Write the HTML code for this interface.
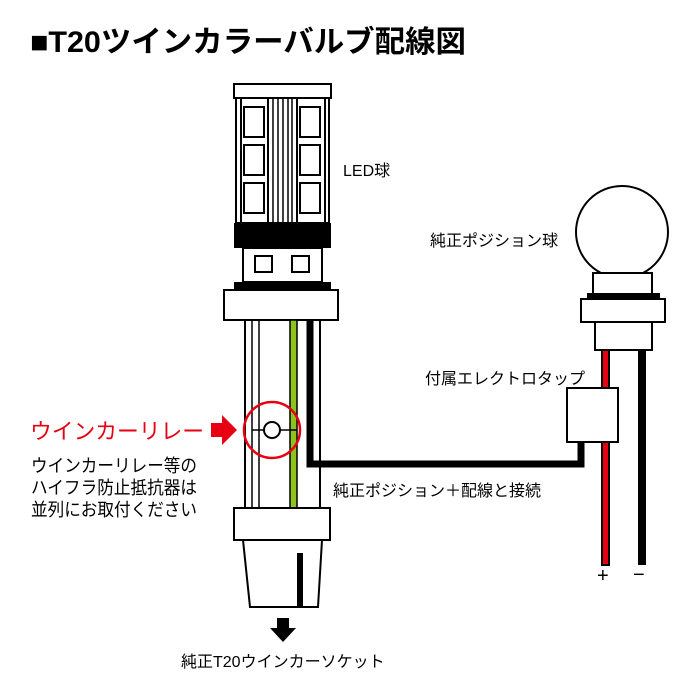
<!DOCTYPE html>
<html><head><meta charset="utf-8"><style>
html,body{margin:0;padding:0;background:#fff;}
svg{display:block;}
text{font-family:"Liberation Sans","Noto Sans CJK JP",sans-serif;}
</style></head><body>
<svg width="700" height="700" viewBox="0 0 700 700" xmlns="http://www.w3.org/2000/svg">
<rect width="700" height="700" fill="#fff"/>
<text x="30" y="52" font-size="30" font-weight="bold" textLength="436" lengthAdjust="spacingAndGlyphs">■T20ツインカラーバルブ配線図</text>

<!-- LED bulb -->
<g stroke="#000" stroke-width="2" fill="#fff">
<rect x="234" y="84" width="97" height="14"/>
<rect x="236" y="98" width="93" height="125"/>
<line x1="241" y1="98" x2="241" y2="223"/>
<line x1="325" y1="98" x2="325" y2="223"/>
<line x1="268" y1="98" x2="268" y2="223"/>
<line x1="297" y1="98" x2="297" y2="223"/>
<g stroke-width="1.5">
<line x1="273" y1="98" x2="273" y2="223"/><line x1="278" y1="98" x2="278" y2="223"/>
<line x1="283" y1="98" x2="283" y2="223"/><line x1="288" y1="98" x2="288" y2="223"/>
<line x1="292" y1="98" x2="292" y2="223"/>
</g>
<rect x="244" y="107" width="20" height="30"/><rect x="244" y="145" width="20" height="30"/><rect x="244" y="183" width="20" height="30"/>
<rect x="300" y="107" width="20" height="30"/><rect x="300" y="145" width="20" height="30"/><rect x="300" y="183" width="20" height="30"/>
</g>
<rect x="234" y="223" width="97" height="25" fill="#000"/>
<g stroke="#000" stroke-width="2" fill="#fff">
<rect x="243" y="248" width="79" height="34"/>
<rect x="255" y="256" width="17" height="16"/>
<rect x="292" y="256" width="17" height="16"/>
</g>
<rect x="234" y="282" width="97" height="8" fill="#000"/>
<rect x="224" y="290" width="114" height="30" fill="#fff" stroke="#000" stroke-width="2"/>
<line x1="245" y1="320" x2="245" y2="508" stroke="#000" stroke-width="2"/>
<line x1="320" y1="320" x2="320" y2="508" stroke="#000" stroke-width="2"/>
<line x1="252" y1="320" x2="252" y2="508" stroke="#000" stroke-width="1.5"/>
<line x1="259" y1="320" x2="259" y2="508" stroke="#000" stroke-width="1.5"/>
<rect x="290" y="320" width="7" height="188" fill="#8dc21f" stroke="#000" stroke-width="1.5"/>
<path d="M310 320 V464 H581 V442" fill="none" stroke="#000" stroke-width="7"/>
<line x1="252" y1="430" x2="297" y2="430" stroke="#000" stroke-width="1.5"/>
<circle cx="272" cy="430" r="8" fill="#fff" stroke="#000" stroke-width="2"/>
<circle cx="272" cy="430" r="28" fill="none" stroke="#e60012" stroke-width="2.5"/>
<rect x="234" y="508" width="96" height="32" fill="#fff" stroke="#000" stroke-width="2"/>
<path d="M243 540 L322 540 L318 607 L250 607 Z" fill="#fff" stroke="#000" stroke-width="2"/>
<rect x="297" y="553" width="6" height="54" fill="#000"/>
<path d="M277 618 h12 v10 h7 l-13 14 l-13 -14 h7 z" fill="#000"/>

<circle cx="622" cy="232" r="46" fill="#fff" stroke="#000" stroke-width="2"/>
<rect x="593" y="273" width="59" height="22" fill="#fff" stroke="#000" stroke-width="2"/>
<rect x="587" y="293" width="73" height="6" fill="#000"/>
<rect x="581" y="299" width="84" height="23" fill="#fff" stroke="#000" stroke-width="2"/>
<rect x="595" y="322" width="57" height="28" fill="#fff" stroke="#000" stroke-width="2"/>
<rect x="602" y="350" width="7" height="215" fill="#e60012" stroke="#000" stroke-width="2"/>
<rect x="638" y="350" width="8" height="215" fill="#000"/>
<rect x="567" y="388" width="51" height="54" fill="#fff" stroke="#000" stroke-width="2"/>
<text x="597" y="582" font-size="20">+</text>
<text x="633" y="581" font-size="20">−</text>

<text x="343" y="176" font-size="16">LED球</text>
<text x="430" y="246" font-size="16">純正ポジション球</text>
<text x="425" y="384" font-size="16">付属エレクトロタップ</text>
<text x="333" y="496" font-size="16">純正ポジション＋配線と接続</text>
<text x="181" y="667" font-size="16">純正T20ウインカーソケット</text>
<text x="30" y="439" font-size="22" fill="#e60012" textLength="174" lengthAdjust="spacingAndGlyphs">ウインカーリレー</text>
<path d="M211 423 h11 v-8 l15 15 l-15 15 v-8 h-11 z" fill="#e60012"/>
<text x="31" y="472" font-size="18" textLength="166" lengthAdjust="spacingAndGlyphs">ウインカーリレー等の</text>
<text x="31" y="494" font-size="18" textLength="166" lengthAdjust="spacingAndGlyphs">ハイフラ防止抵抗器は</text>
<text x="31" y="516" font-size="18" textLength="166" lengthAdjust="spacingAndGlyphs">並列にお取付ください</text>
</svg>
</body></html>
